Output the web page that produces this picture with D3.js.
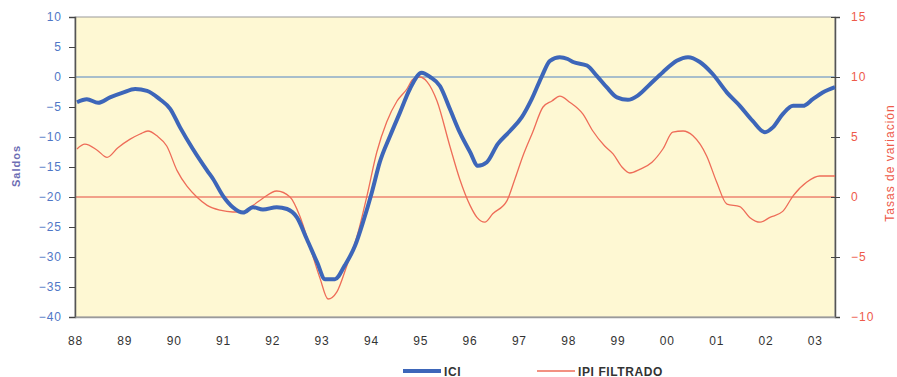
<!DOCTYPE html>
<html>
<head>
<meta charset="utf-8">
<script src="https://cdn.jsdelivr.net/npm/d3@7"></script>
<style>
  html, body { margin: 0; padding: 0; background: #fff; }
  svg { display: block; font-family: "Liberation Sans", Arial, sans-serif; }
</style>
</head>
<body>
<svg id="chart" width="897" height="377"></svg>
<script>
// ---- data (years since 1988) ----
const iciYears = [0.04,0.24,0.47,0.71,0.97,1.22,1.46,1.72,1.93,2.13,2.39,2.68,2.80,3.00,3.20,3.41,3.61,3.81,4.09,4.30,4.50,4.70,4.91,5.07,5.27,5.47,5.68,5.84,6.02,6.18,6.39,6.59,6.79,7.03,7.20,7.40,7.60,7.80,8.01,8.17,8.35,8.57,8.82,9.06,9.26,9.47,9.63,9.83,9.99,10.10,10.38,10.58,10.78,10.99,11.21,11.41,11.66,11.92,12.20,12.43,12.67,12.93,13.22,13.48,13.74,13.99,14.15,14.35,14.56,14.76,14.96,15.16,15.41];
const iciValues = [-4.2,-3.7,-4.3,-3.4,-2.6,-2.0,-2.3,-3.7,-5.3,-8.4,-12,-15.6,-17,-19.8,-21.7,-22.6,-21.7,-22.1,-21.7,-22,-23.4,-27,-30.9,-33.7,-33.7,-31.4,-28.1,-24.2,-19.2,-14.2,-9.8,-5.9,-2,0.7,0,-1.5,-5.3,-9.2,-12.5,-14.8,-14.2,-11.2,-9,-6.7,-3.7,0.2,2.7,3.3,3,2.5,1.9,0.2,-1.7,-3.4,-3.8,-3.1,-1.2,0.8,2.7,3.3,2.5,0.5,-2.6,-4.8,-7.3,-9.2,-8.4,-6.2,-4.8,-4.8,-3.7,-2.6,-1.7];
const ipiYears = [0.04,0.20,0.45,0.65,0.87,1.11,1.32,1.48,1.66,1.86,2.07,2.27,2.47,2.68,2.94,3.20,3.41,3.61,3.81,4.09,4.36,4.56,4.76,4.97,5.13,5.31,5.51,5.72,5.92,6.12,6.32,6.53,6.73,6.85,6.99,7.14,7.34,7.60,7.80,8.01,8.15,8.31,8.47,8.76,8.92,9.08,9.28,9.49,9.67,9.83,10.03,10.30,10.50,10.74,10.91,11.09,11.25,11.45,11.70,11.92,12.12,12.33,12.53,12.81,13.01,13.22,13.48,13.68,13.89,14.09,14.35,14.56,14.84,15.10,15.41];
const ipiValues = [4.0,4.4,3.9,3.3,4.1,4.8,5.25,5.5,5.1,4.25,2.2,0.9,0,-0.7,-1.1,-1.25,-1.25,-0.7,-0.1,0.5,0,-1.6,-4.1,-6.8,-8.5,-7.9,-5.75,-3.25,0.1,3.75,6.25,8,9,9.8,10,9.6,8,4.25,1.5,-0.7,-1.7,-2.1,-1.4,-0.3,1.5,3.4,5.4,7.5,8,8.4,7.9,6.9,5.5,4.25,3.6,2.5,2,2.3,2.9,4,5.4,5.5,5.1,3.4,1.25,-0.6,-0.8,-1.7,-2.1,-1.7,-1.2,0.1,1.25,1.75,1.75];
const yearLabels = ["88","89","90","91","92","93","94","95","96","97","98","99","00","01","02","03"];
const leftTicks = [10,5,0,-5,-10,-15,-20,-25,-30,-35,-40];
const rightTicks = [15,10,5,0,-5,-10];
const seriesNames = ["ICI","IPI FILTRADO"];

// ---- layout ----
const L = 75, R = 835, T = 17, B = 317;
const svg = d3.select("#chart");

const x = d3.scaleLinear().domain([0, 15.41]).range([L, R]);
const yL = d3.scaleLinear().domain([-40, 10]).range([B, T]);
const yR = d3.scaleLinear().domain([-10, 15]).range([B, T]);

const blue = "#3D66B9", red = "#EE6C58";

// plot background
svg.append("rect").attr("x", L).attr("y", T).attr("width", R - L).attr("height", B - T)
  .attr("fill", "#FEF8D3").attr("stroke", "#9a9a9a").attr("stroke-width", 1);

// reference lines
svg.append("line").attr("x1", L).attr("x2", R).attr("y1", yL(0)).attr("y2", yL(0))
  .attr("stroke", "#A8BECB").attr("stroke-width", 2);
svg.append("line").attr("x1", L).attr("x2", R).attr("y1", yR(0)).attr("y2", yR(0))
  .attr("stroke", "#F2A189").attr("stroke-width", 2);

// left axis
const gL = svg.append("g").attr("transform", `translate(${L},0)`)
  .call(d3.axisLeft(yL).tickValues(leftTicks).tickSize(6).tickPadding(7));
gL.select(".domain").attr("stroke", "#555").attr("stroke-width", 1.5);
gL.selectAll(".tick line").attr("stroke", "#444");
gL.selectAll(".tick text").attr("fill", "#5077C6").attr("font-size", 12)
  .attr("letter-spacing", 1).attr("font-family", "Liberation Sans, Arial, sans-serif");

// right axis
const gR = svg.append("g").attr("transform", `translate(${R},0)`)
  .call(d3.axisRight(yR).tickValues(rightTicks).tickSize(5).tickPadding(11));
gR.select(".domain").attr("stroke", "#555").attr("stroke-width", 1.5);
gR.selectAll(".tick line").attr("stroke", "#444").attr("x1", -4);
gR.selectAll(".tick text").attr("fill", "#EE5A4A").attr("font-size", 12)
  .attr("letter-spacing", 1).attr("font-family", "Liberation Sans, Arial, sans-serif");

// bottom axis (labels only)
const gB = svg.append("g").attr("transform", `translate(0,${B})`)
  .call(d3.axisBottom(x).tickValues(d3.range(yearLabels.length))
    .tickFormat((d, i) => yearLabels[i]).tickSize(0).tickPadding(19));
gB.select(".domain").attr("stroke", "#9a9a9a").attr("stroke-width", 1.5);
gB.selectAll(".tick text").attr("fill", "#333").attr("font-size", 12)
  .attr("letter-spacing", 0.8).attr("font-family", "Liberation Sans, Arial, sans-serif");

// axis titles
svg.append("text").attr("transform", `translate(20,166) rotate(-90)`)
  .attr("text-anchor", "middle").attr("fill", "#6E6EB4").attr("font-size", 11)
  .attr("font-weight", "bold").attr("letter-spacing", 1).text("Saldos");
svg.append("text").attr("transform", `translate(894,163) rotate(-90)`)
  .attr("text-anchor", "middle").attr("fill", "#EE5A4A").attr("font-size", 12)
  .attr("letter-spacing", 1).text("Tasas de variación");

// lines
const lineL = d3.line().x(d => x(d[0])).y(d => yL(d[1])).curve(d3.curveMonotoneX);
const lineR = d3.line().x(d => x(d[0])).y(d => yR(d[1])).curve(d3.curveMonotoneX);
svg.append("path").datum(ipiYears.map((t, i) => [t, ipiValues[i]]))
  .attr("d", lineR).attr("fill", "none").attr("stroke", red).attr("stroke-width", 1.3);
svg.append("path").datum(iciYears.map((t, i) => [t, iciValues[i]]))
  .attr("d", lineL).attr("fill", "none").attr("stroke", blue).attr("stroke-width", 4)
  .attr("stroke-linejoin", "round");

// legend
const legend = [
  { name: seriesNames[0], color: blue, w: 4, x0: 403 },
  { name: seriesNames[1], color: red, w: 1.5, x0: 537 }
];
legend.forEach(l => {
  svg.append("line").attr("x1", l.x0).attr("x2", l.x0 + 38).attr("y1", 371).attr("y2", 371)
    .attr("stroke", l.color).attr("stroke-width", l.w);
  svg.append("text").attr("x", l.x0 + 41).attr("y", 375.5).attr("fill", "#333")
    .attr("font-size", 12).attr("font-weight", "bold").attr("letter-spacing", 0.6).text(l.name);
});
</script>
</body>
</html>
